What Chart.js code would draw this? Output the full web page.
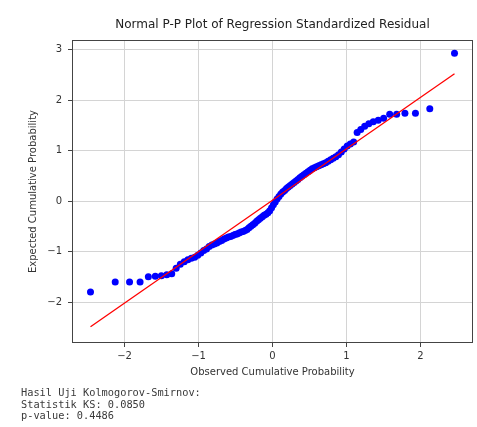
<!DOCTYPE html>
<html>
<head>
<meta charset="utf-8">
<script src="https://cdn.jsdelivr.net/npm/chart.js@4"></script>
<style>
  html, body { margin: 0; padding: 0; background: #fff; }
  #wrap { position: relative; width: 477px; height: 427px; }
  #ks { position: absolute; left: 21px; top: 387px; margin: 0;
        font: 10.3px "DejaVu Sans Mono", monospace; line-height: 11.5px; color: #3a3a3a; }
</style>
</head>
<body>
<div id="wrap">
  <canvas id="pp" width="477" height="427"></canvas>
  <pre id="ks"></pre>
</div>
<script>
// quantiles théoriques (axe x) et résidus standardisés triés (axe y)
const xQuant = [
  -2.46, -2.126, -1.932, -1.790, -1.678, -1.584, -1.502, -1.429, -1.362, -1.302,
  -1.246, -1.193, -1.144, -1.097, -1.052, -1.010, -0.969, -0.930, -0.892, -0.856,
  -0.820, -0.786, -0.752, -0.719, -0.687, -0.656, -0.625, -0.595, -0.566, -0.536,
  -0.508, -0.480, -0.452, -0.424, -0.397, -0.370, -0.344, -0.318, -0.292, -0.266,
  -0.240, -0.214, -0.189, -0.164, -0.138, -0.113, -0.088, -0.062, -0.037, -0.012,
  0.012, 0.037, 0.062, 0.088, 0.113, 0.138, 0.164, 0.189, 0.214, 0.240,
  0.266, 0.292, 0.318, 0.344, 0.370, 0.397, 0.424, 0.452, 0.480, 0.508,
  0.536, 0.566, 0.595, 0.625, 0.656, 0.687, 0.719, 0.752, 0.786, 0.820,
  0.856, 0.892, 0.930, 0.969, 1.010, 1.052, 1.097, 1.144, 1.193, 1.246,
  1.302, 1.362, 1.429, 1.502, 1.584, 1.678, 1.790, 1.932, 2.126, 2.46
];
const yResid = [
  -1.80, -1.60, -1.60, -1.60, -1.50, -1.49, -1.48, -1.46, -1.44, -1.33,
  -1.25, -1.20, -1.16, -1.13, -1.11, -1.07, -1.03, -0.98, -0.95, -0.90,
  -0.87, -0.85, -0.83, -0.80, -0.78, -0.75, -0.73, -0.71, -0.70, -0.68,
  -0.66, -0.65, -0.63, -0.61, -0.60, -0.58, -0.56, -0.53, -0.50, -0.47,
  -0.44, -0.40, -0.37, -0.34, -0.31, -0.28, -0.26, -0.23, -0.19, -0.13,
  -0.07, -0.02, 0.04, 0.09, 0.14, 0.18, 0.21, 0.25, 0.28, 0.31,
  0.34, 0.37, 0.40, 0.43, 0.46, 0.49, 0.52, 0.55, 0.58, 0.61,
  0.64, 0.66, 0.68, 0.70, 0.72, 0.74, 0.76, 0.79, 0.82, 0.85,
  0.88, 0.92, 0.97, 1.03, 1.09, 1.13, 1.17, 1.36, 1.42, 1.48,
  1.53, 1.57, 1.60, 1.64, 1.72, 1.72, 1.74, 1.74, 1.83, 2.93
];
// droite de référence (extrémités)
const lineX = [-2.46, 2.46];
const lineY = [-2.49, 2.52];

const xTicks = [-2, -1, 0, 1, 2];
const yTicks = [-2, -1, 0, 1, 2, 3];

const ksLines = [
  'Hasil Uji Kolmogorov-Smirnov:',
  'Statistik KS: 0.0850',
  'p-value: 0.4486'
];
document.getElementById('ks').textContent = ksLines.join('\n');

const TXT = '#333', GRID = '#d4d4d4';
const fmt = v => (v < 0 ? '\u2212' + Math.abs(v) : String(v));

// cadre complet autour de la zone de tracé (style matplotlib)
const frame = {
  id: 'frame',
  afterDatasetsDraw(chart) {
    const a = chart.chartArea, c = chart.ctx;
    c.save();
    c.strokeStyle = '#444';
    c.lineWidth = 1;
    c.strokeRect(Math.round(a.left) + 0.5, Math.round(a.top) + 0.5,
                 Math.round(a.right - a.left) - 1, Math.round(a.bottom - a.top) - 1);
    c.restore();
  }
};

new Chart(document.getElementById('pp'), {
  type: 'scatter',
  data: {
    datasets: [
      {
        type: 'line',
        data: lineX.map((x, i) => ({ x, y: lineY[i] })),
        borderColor: 'red', borderWidth: 1.3, pointRadius: 0, fill: false, order: 0
      },
      {
        data: xQuant.map((x, i) => ({ x, y: yResid[i] })),
        backgroundColor: 'blue', borderColor: 'blue', borderWidth: 0,
        pointRadius: 3.5, order: 1
      }
    ]
  },
  options: {
    responsive: false,
    animation: false,
    layout: { padding: { left: 27, right: 2, top: 0, bottom: 49 } },
    plugins: {
      legend: { display: false },
      tooltip: { enabled: false },
      title: {
        display: true, fullSize: false,
        text: 'Normal P-P Plot of Regression Standardized Residual',
        color: '#222',
        font: { family: 'DejaVu Sans', size: 12, weight: 'normal' },
        padding: { top: 18, bottom: 7.6 }
      }
    },
    scales: {
      x: {
        type: 'linear', min: -2.71, max: 2.71,
        afterBuildTicks: s => { s.ticks = xTicks.map(v => ({ value: v })); },
        afterFit: s => { s.height = 35; },
        grid: { color: GRID, tickColor: '#444', tickLength: 4 },
        border: { display: false },
        ticks: { color: TXT, font: { family: 'DejaVu Sans', size: 10 }, padding: 3, callback: fmt, maxRotation: 0 },
        title: { display: true, text: 'Observed Cumulative Probability', color: TXT,
                 font: { family: 'DejaVu Sans', size: 10 }, padding: 0 }
      },
      y: {
        type: 'linear', min: -2.81, max: 3.19,
        afterBuildTicks: s => { s.ticks = yTicks.map(v => ({ value: v })); },
        afterFit: s => { s.width = 45; },
        grid: { color: GRID, tickColor: '#444', tickLength: 4 },
        border: { display: false },
        ticks: { color: TXT, font: { family: 'DejaVu Sans', size: 10 }, padding: 6, callback: fmt },
        title: { display: true, text: 'Expected Cumulative Probability', color: TXT,
                 font: { family: 'DejaVu Sans', size: 10 }, padding: 0 }
      }
    }
  },
  plugins: [frame]
});
</script>
</body>
</html>
